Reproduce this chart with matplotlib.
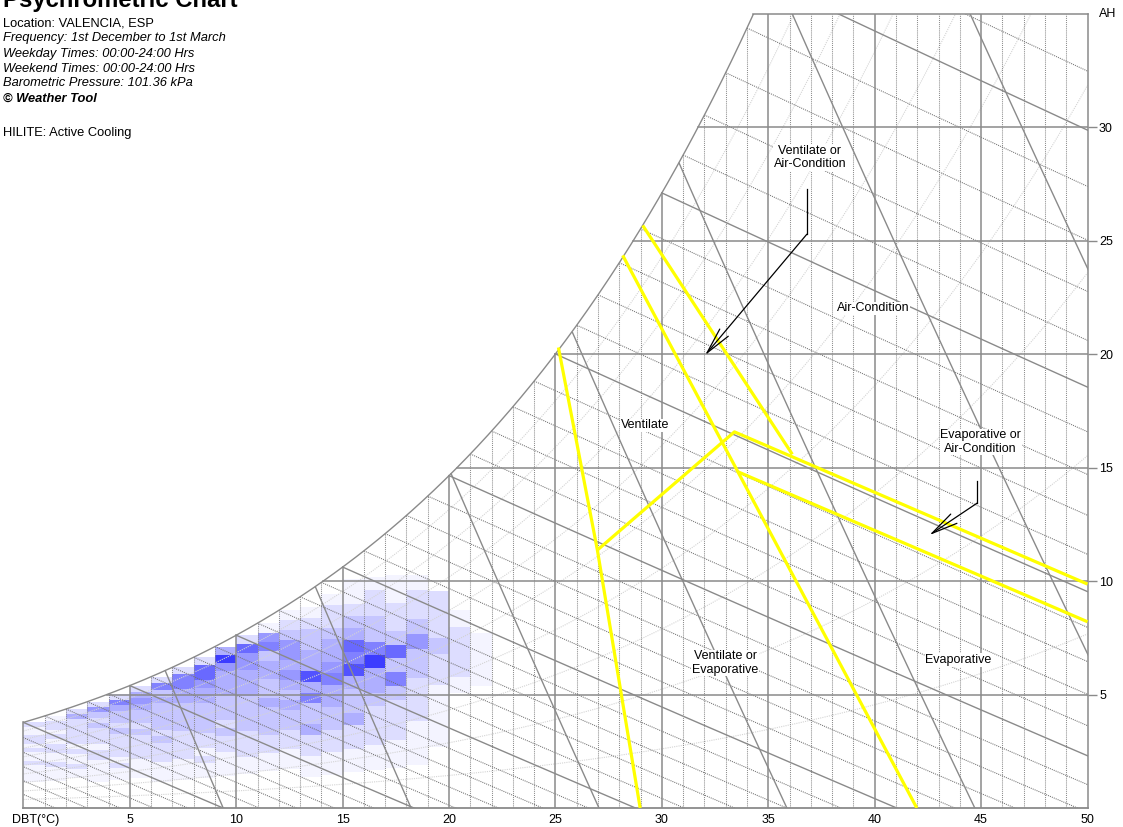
import numpy as np
import matplotlib.pyplot as plt
from matplotlib.colors import LinearSegmentedColormap

plt.rcParams['font.family'] = ['Liberation Sans', 'DejaVu Sans']

P_ATM = 101.36  # kPa

# hourly frequency grid: one column per 1 degC of DBT, one band per 5 % RH
dbt_cols = np.arange(0, 22)
rh_edges = np.arange(0, 105, 5) / 100.0
hours = np.array([
    # 0-5 ... 95-100 % RH
    [0, 0, 0, 0, 0, 0, 1, 1, 1, 1, 2, 1, 1, 2, 1, 2, 2, 1, 1, 2],
    [0, 0, 0, 0, 0, 0, 1, 1, 1, 2, 1, 1, 2, 2, 1, 2, 1, 2, 2, 1],
    [0, 0, 0, 0, 0, 0, 1, 1, 2, 1, 1, 2, 1, 2, 2, 2, 2, 2, 4, 2],
    [0, 0, 0, 0, 0, 1, 1, 1, 1, 2, 2, 1, 2, 2, 2, 3, 2, 3, 5, 2],
    [0, 0, 0, 0, 0, 1, 1, 2, 1, 2, 2, 2, 2, 3, 2, 3, 3, 4, 6, 2],
    [0, 0, 0, 0, 0, 1, 1, 1, 2, 2, 2, 2, 3, 2, 3, 3, 4, 5, 4, 2],
    [0, 0, 0, 0, 1, 1, 1, 2, 2, 2, 3, 2, 3, 3, 3, 3, 4, 3, 6, 2],
    [0, 0, 0, 0, 1, 1, 1, 2, 2, 2, 2, 3, 3, 3, 3, 4, 4, 6, 6, 2],
    [0, 0, 0, 0, 1, 1, 2, 1, 2, 2, 3, 3, 3, 3, 4, 4, 5, 7, 7, 2],
    [0, 0, 0, 0, 1, 1, 1, 2, 2, 3, 2, 3, 3, 3, 4, 4, 4, 5, 9, 4],
    [0, 0, 0, 0, 1, 1, 2, 2, 2, 3, 3, 3, 3, 4, 4, 4, 5, 5, 7, 2],
    [0, 0, 0, 0, 1, 1, 2, 2, 3, 3, 3, 4, 3, 3, 4, 4, 3, 6, 5, 1],
    [0, 0, 0, 0, 1, 1, 2, 2, 3, 3, 4, 3, 4, 5, 4, 5, 5, 3, 2, 1],
    [0, 0, 0, 1, 1, 2, 2, 4, 3, 3, 6, 4, 8, 4, 4, 3, 3, 2, 1, 0],
    [0, 0, 0, 1, 1, 2, 2, 3, 3, 4, 4, 6, 5, 4, 4, 3, 2, 2, 1, 0],
    [0, 0, 0, 1, 1, 2, 2, 4, 3, 3, 4, 8, 6, 7, 4, 3, 2, 1, 1, 0],
    [0, 0, 0, 1, 1, 2, 2, 2, 3, 4, 4, 9, 6, 3, 3, 2, 2, 1, 0, 0],
    [0, 0, 0, 1, 1, 2, 2, 2, 3, 6, 3, 7, 3, 2, 2, 1, 1, 0, 0, 0],
    [0, 0, 0, 1, 1, 1, 2, 2, 2, 3, 3, 5, 3, 2, 2, 1, 0, 0, 0, 0],
    [0, 0, 0, 0, 1, 1, 1, 1, 2, 2, 3, 2, 2, 2, 0, 0, 0, 0, 0, 0],
    [0, 0, 0, 0, 0, 0, 0, 1, 2, 2, 2, 1, 0, 0, 0, 0, 0, 0, 0, 0],
    [0, 0, 0, 0, 0, 0, 0, 1, 1, 1, 0, 0, 0, 0, 0, 0, 0, 0, 0, 0],
])

# design strategy boundaries, (DBT degC, AH g/kg)
vent_edge_x = [25.14, 26.97, 28.98]
vent_edge_y = [20.30, 11.37, 0.0]
vent_top_x = [26.97, 33.41, 50.0]
vent_top_y = [11.37, 16.58, 9.87]
evap_upper_x = [29.10, 36.13]
evap_upper_y = [25.68, 15.59]
evap_edge_x = [28.16, 41.98]
evap_edge_y = [24.36, 0.0]
evap_low_x = [33.60, 50.0]
evap_low_y = [14.81, 8.21]

zone_labels = ["Ventilate or\nAir-Condition", "Air-Condition", "Ventilate",
               "Evaporative or\nAir-Condition", "Ventilate or\nEvaporative",
               "Evaporative"]
zone_x = [36.96, 39.92, 29.21, 44.98, 32.97, 43.93]
zone_y = [28.68, 22.03, 16.87, 16.14, 6.39, 6.52]

# leader arrows: bend point list, last point is the tip
arrow1_x = [36.81, 36.81, 32.03]
arrow1_y = [27.30, 25.29, 19.96]
arrow2_x = [44.83, 44.83, 42.57]
arrow2_y = [14.41, 13.45, 12.03]

x_ticks = [5, 10, 15, 20, 25, 30, 35, 40, 45, 50]
y_ticks = [5, 10, 15, 20, 25, 30]

info_lines = [
    ("Location: VALENCIA, ESP", "normal", "normal"),
    ("Frequency: 1st December to 1st March", "italic", "normal"),
    ("Weekday Times: 00:00-24:00 Hrs", "italic", "normal"),
    ("Weekend Times: 00:00-24:00 Hrs", "italic", "normal"),
    ("Barometric Pressure: 101.36 kPa", "italic", "normal"),
    ("\u00a9 Weather Tool", "italic", "bold"),
]


def psat(t):
    return 0.6112 * np.exp(17.62 * t / (243.12 + t))


def ah(t, rh):
    pv = rh * psat(t)
    return 622.0 * pv / (P_ATM - pv)


T_MAX, W_MAX = 50.0, 35.0
GREY = '#8a8a8a'
DOT = (0, (1, 1))

fig = plt.figure(figsize=(11.23, 8.27), dpi=100)
ax = fig.add_axes([23.4 / 1123, 19 / 827, (1087.5 - 23.4) / 1123, 794 / 827])
ax.set_xlim(0, T_MAX)
ax.set_ylim(0, W_MAX)
for s in ax.spines.values():
    s.set_visible(False)

# frequency cells
cmap = LinearSegmentedColormap.from_list('hrs', ['#f4f4ff', '#3c3cff'])
for i, t in enumerate(dbt_cols):
    ws = ah(t, rh_edges)
    for k in range(len(rh_edges) - 1):
        v = hours[i, k]
        if v == 0:
            continue
        ax.bar(t, ws[k + 1] - ws[k], bottom=ws[k], width=1, align='edge',
               color=cmap((v - 1) / 8.0), linewidth=0, zorder=1)

# saturation curve
t_sat = np.linspace(0, T_MAX, 2001)
w_sat = ah(t_sat, 1.0)
t_top = np.interp(W_MAX, w_sat, t_sat)
ts = np.linspace(0, t_top, 400)
ax.plot(ts, ah(ts, 1.0), color=GREY, lw=1.0, zorder=3)

# relative humidity curves
tr = np.linspace(0, T_MAX, 400)
for rh in np.arange(0.1, 0.95, 0.1):
    ax.plot(tr, ah(tr, rh), color='#d4d4d4', lw=0.8, ls=DOT, zorder=2)

# dry bulb verticals
for t in range(1, 50):
    top = min(ah(t, 1.0), W_MAX)
    if t % 5 == 0:
        ax.plot([t, t], [0, top], color=GREY, lw=1.1, zorder=3)
    else:
        ax.plot([t, t], [0, top], color='#8c8c8c', lw=0.75, ls=DOT, zorder=2)

# absolute humidity horizontals, with short ticks past the right edge
for w in y_ticks:
    t0 = np.interp(w, w_sat, t_sat)
    ax.plot([t0, T_MAX], [w, w], color=GREY, lw=1.1, zorder=3)
ax.yaxis.tick_right()
ax.set_yticks(y_ticks)
ax.tick_params(axis='y', length=6.8, width=1.0, color=GREY, pad=1.5,
               labelsize=9)
ax.set_xticks(x_ticks)
ax.tick_params(axis='x', length=0, pad=4.5, labelsize=9)

# wet bulb lines, solid every 5 degC above freezing
for twb in range(-10, 41):
    wstar = ah(twb, 1.0) / 1000.0
    t = np.linspace(twb, T_MAX, 300)
    w = ((2501 - 2.326 * twb) * wstar - 1.006 * (t - twb)) / \
        (2501 + 1.86 * t - 4.186 * twb) * 1000.0
    keep = w >= -0.5
    if twb >= 0 and twb % 5 == 0:
        ax.plot(t[keep], w[keep], color=GREY, lw=1.0, zorder=3)
    else:
        ax.plot(t[keep], w[keep], color='#707070', lw=0.75, ls=DOT, zorder=2)

# specific volume lines
wv = np.linspace(0, W_MAX, 400)
for v in np.arange(0.800, 0.951, 0.025):
    t = v * P_ATM / (0.287 * (1 + 1.6078 * wv / 1000.0)) - 273.15
    ok = wv <= ah(t, 1.0)
    ax.plot(t[ok], wv[ok], color=GREY, lw=1.0, zorder=3)

# chart border
ax.plot([0, T_MAX], [0, 0], color=GREY, lw=1.3, zorder=3, clip_on=False)
ax.plot([T_MAX, T_MAX], [0, W_MAX], color=GREY, lw=1.1, zorder=3, clip_on=False)
ax.plot([t_top, T_MAX], [W_MAX, W_MAX], color=GREY, lw=1.1, zorder=3, clip_on=False)
ax.plot([0, 0], [0, ah(0, 1.0)], color=GREY, lw=1.1, zorder=3, clip_on=False)

# strategy zones
for xs, ys in [(vent_edge_x, vent_edge_y), (vent_top_x, vent_top_y),
               (evap_upper_x, evap_upper_y), (evap_edge_x, evap_edge_y),
               (evap_low_x, evap_low_y)]:
    ax.plot(xs, ys, color='#ffff00', lw=2.3, zorder=4, solid_capstyle='butt')

for lab, x, y in zip(zone_labels, zone_x, zone_y):
    ax.text(x, y, lab, ha='center', va='center', fontsize=9, zorder=5,
            linespacing=1.15,
            bbox=dict(boxstyle='square,pad=0.05', fc='white', ec='none'))

for xs, ys in [(arrow1_x, arrow1_y), (arrow2_x, arrow2_y)]:
    ax.plot(xs[:2], ys[:2], color='black', lw=0.9, zorder=5)
    ax.annotate('', xy=(xs[2], ys[2]), xytext=(xs[1], ys[1]),
                arrowprops=dict(arrowstyle='->,head_length=1.9,head_width=0.4',
                                color='black', lw=0.9, shrinkA=0, shrinkB=0,
                                mutation_scale=10),
                zorder=5)

# axis captions
ax.annotate('AH', xy=(1, 1), xycoords='axes fraction', xytext=(8.5, 0),
            textcoords='offset points', fontsize=9, ha='left', va='center')
ax.annotate('DBT(\u00b0C)', xy=(0, 0), xycoords='axes fraction',
            xytext=(8.5, -4.5), textcoords='offset points', fontsize=9,
            ha='center', va='top')

# header block
fig.text(3 / 1123, 1 - 7 / 827, 'Psychrometric Chart', fontsize=17.2,
         fontweight='bold', va='baseline', ha='left')
for n, (line, style, weight) in enumerate(info_lines):
    fig.text(3 / 1123, 1 - (26.5 + 15 * n) / 827, line, fontsize=9.3,
             style=style, fontweight=weight, va='baseline', ha='left')
fig.text(3 / 1123, 1 - 136 / 827, 'HILITE: Active Cooling', fontsize=9.3,
         va='baseline', ha='left')

fig.savefig('out.png', dpi=100, facecolor='white')
